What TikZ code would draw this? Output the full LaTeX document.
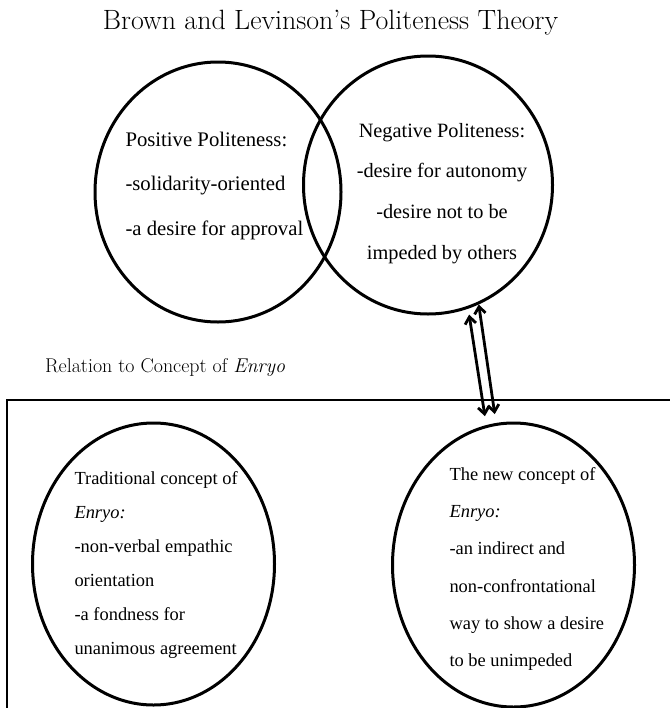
\documentclass[tikz,border=0pt]{standalone}
\usepackage{fontspec}
\newfontfamily\timesfont{Liberation Serif}
\usetikzlibrary{shapes.geometric,arrows.meta}

\tikzset{
  bubble/.style={draw,ellipse,line width=3bp,inner sep=0pt},
  toptext/.style={font=\timesfont\fontsize{20.6}{44}\selectfont},
  lowtext/.style={font=\timesfont\fontsize{18.5}{34}\selectfont,align=left,anchor=west},
  link/.style={line width=2.8bp,{Straight Barb[length=7bp,width=11bp]}-{Straight Barb[length=7bp,width=11bp]}}
}

\begin{document}
\begin{tikzpicture}
	\useasboundingbox (0bp,0bp) rectangle (670bp,-708bp);
	%% title and caption
	\node (title) at (330.5bp,-23bp) [font=\fontsize{28}{32}\selectfont] {Brown and Levinson's Politeness Theory};
	\node (rel) at (45bp,-368bp) [anchor=west,inner sep=0pt,font=\fontsize{20}{24}\selectfont] {Relation to Concept of \textit{Enryo}};
	%% circles
	\node (Pos) at (218bp,-192bp) [bubble,minimum width=246bp,minimum height=260bp] {};
	\node (Neg) at (428bp,-185bp) [bubble,minimum width=249bp,minimum height=258bp] {};
	\node (Trad) at (153.5bp,-564bp) [bubble,minimum width=242bp,minimum height=282bp] {};
	\node (New) at (513.5bp,-565bp) [bubble,minimum width=242bp,minimum height=284bp] {};
	%% texts
	\node (PosT) at (122bp,-186bp) [toptext,align=left,anchor=west,font=\timesfont\fontsize{20.8}{45}\selectfont] {Positive Politeness:\\-solidarity-oriented\\-a desire for approval};
	\node (NegT) at (442bp,-193.5bp) [toptext,align=center,font=\timesfont\fontsize{20.4}{41}\selectfont] {Negative Politeness:\\-desire for autonomy\\-desire not to be\\impeded by others};
	\node (TradT) at (71bp,-565bp) [lowtext] {Traditional concept of\\\textit{Enryo:}\\-non-verbal empathic\\orientation\\-a fondness for\\unanimous agreement};
	\node (NewT) at (446bp,-569bp) [lowtext,font=\timesfont\fontsize{18.5}{37.4}\selectfont] {The new concept of\\\textit{Enryo:}\\-an indirect and\\non-confrontational\\way to show a desire\\to be unimpeded};
	%% frame
	\draw [line width=1.2bp] (670bp,-400bp) -- (7bp,-400bp) -- (7bp,-708bp);
	%% links
	\draw [link,shorten <=6bp,shorten >=9bp] (Neg.-72) -- (New.101);
	\draw [link,shorten >=9bp] (Neg.-67) -- (New.97);
	%
\end{tikzpicture}
\end{document}
